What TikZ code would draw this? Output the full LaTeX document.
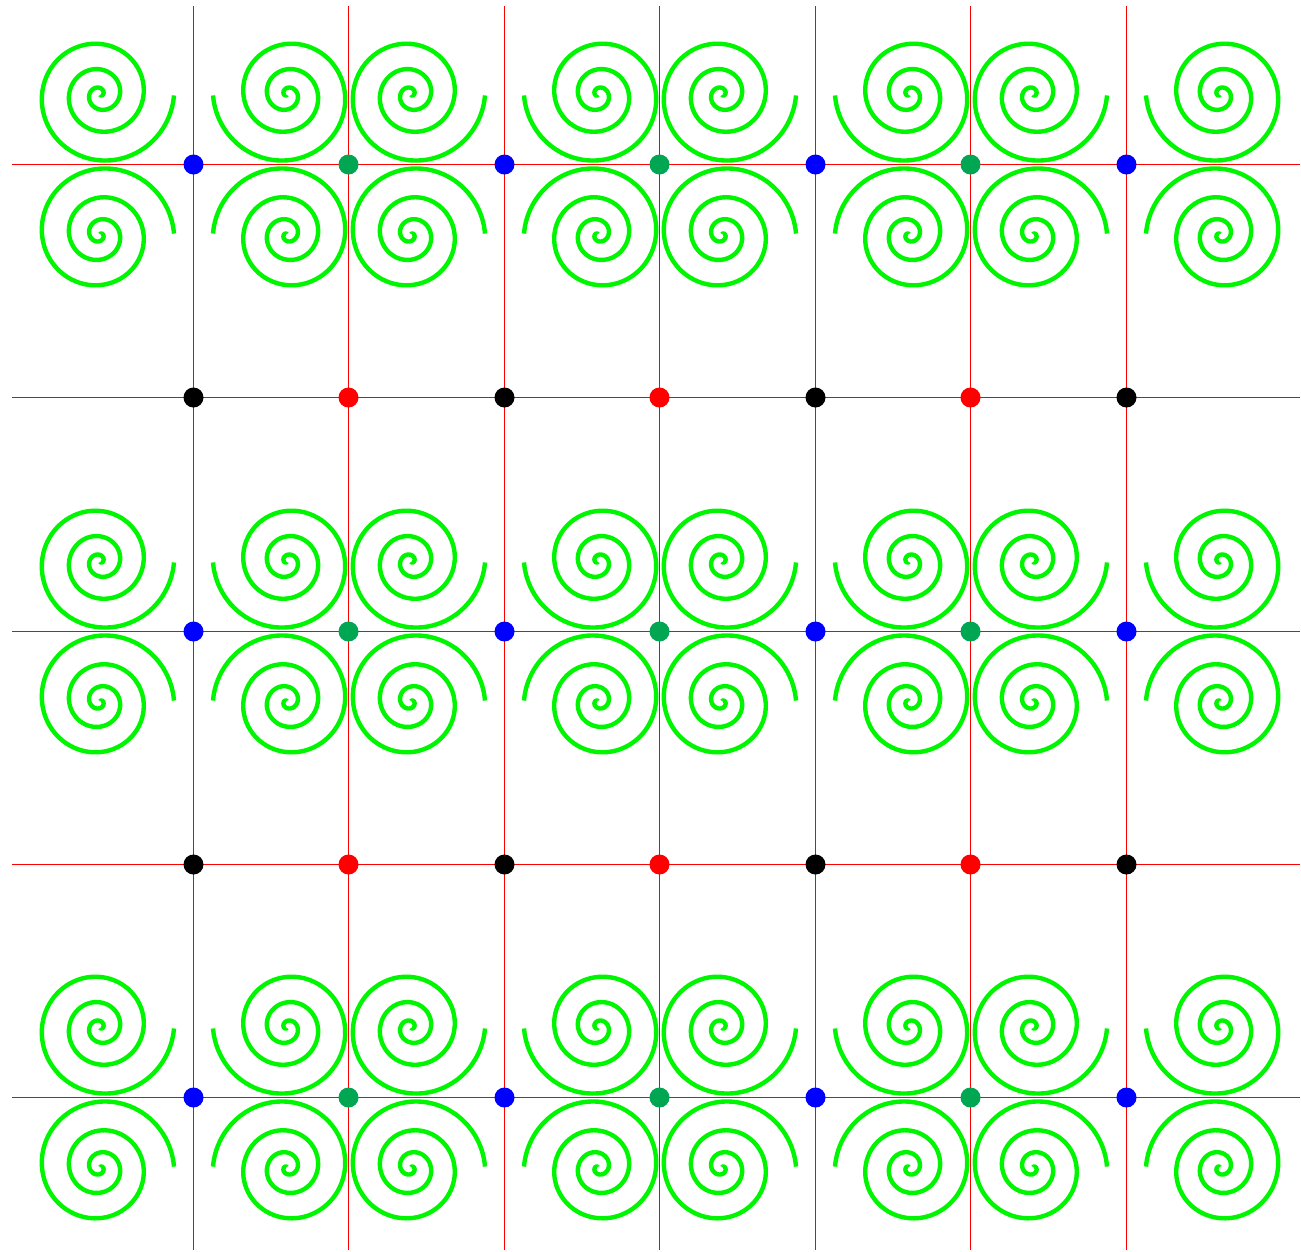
\documentclass[tikz,border=0pt]{standalone}
\definecolor{spgreen}{RGB}{0,245,0}
\definecolor{dotgreen}{RGB}{0,166,81}
\definecolor{dotblue}{RGB}{0,0,255}
\definecolor{dotred}{RGB}{255,0,0}
\definecolor{gridred}{RGB}{255,0,0}
\tikzset{
  spiralline/.style={draw=spgreen, line width=4.4bp},
  gridline/.style={draw=gridred, line width=1.4bp},
  dotstyle/.style={circle, inner sep=0pt, minimum size=20bp},
}
\begin{document}
\begin{tikzpicture}[x=1bp,y=-1bp]
\useasboundingbox (0,0) rectangle (1301,1251);
% spirals
\foreach \bx in {193.5,504.5,815.5,1126.5} {
  \foreach \by in {164.5,631.5,1097.5} {
    \foreach \sx/\sy in {1/1,-1/1,1/-1,-1/-1} {
      \begin{scope}[shift={(\bx,\by)}, xscale=\sx, yscale=\sy]
        \draw[spiralline] plot[domain=-0.2:3, samples=220, variable=\t, smooth]
          ({-93.5+(3+13.5*\t+3.4*\t*\t)*cos(360*\t)},
           {-70-(3+13.5*\t+3.4*\t*\t)*sin(360*\t)});
      \end{scope}
    }
  }
}
% grid lines
\foreach \gx in {193.5,348.5,504.5,659.5,815.5,970.5,1126.5}
  \draw[gridline] (\gx,6) -- (\gx,1250);
\foreach \gy in {164.5,397.5,631.5,864.5,1097.5}
  \draw[gridline] (12,\gy) -- (1300,\gy);
% dots
\foreach \gx/\n in {193.5/a,504.5/b,815.5/c,1126.5/d}
  \foreach \gy/\m in {164.5/1,631.5/2,1097.5/3}
    \node[dotstyle, fill=dotblue] (blue-\n\m) at (\gx,\gy) {};
\foreach \gx/\n in {348.5/a,659.5/b,970.5/c}
  \foreach \gy/\m in {164.5/1,631.5/2,1097.5/3}
    \node[dotstyle, fill=dotgreen] (green-\n\m) at (\gx,\gy) {};
\foreach \gx/\n in {193.5/a,504.5/b,815.5/c,1126.5/d}
  \foreach \gy/\m in {397.5/1,864.5/2}
    \node[dotstyle, fill=black] (black-\n\m) at (\gx,\gy) {};
\foreach \gx/\n in {348.5/a,659.5/b,970.5/c}
  \foreach \gy/\m in {397.5/1,864.5/2}
    \node[dotstyle, fill=dotred] (red-\n\m) at (\gx,\gy) {};
\end{tikzpicture}
\end{document}
